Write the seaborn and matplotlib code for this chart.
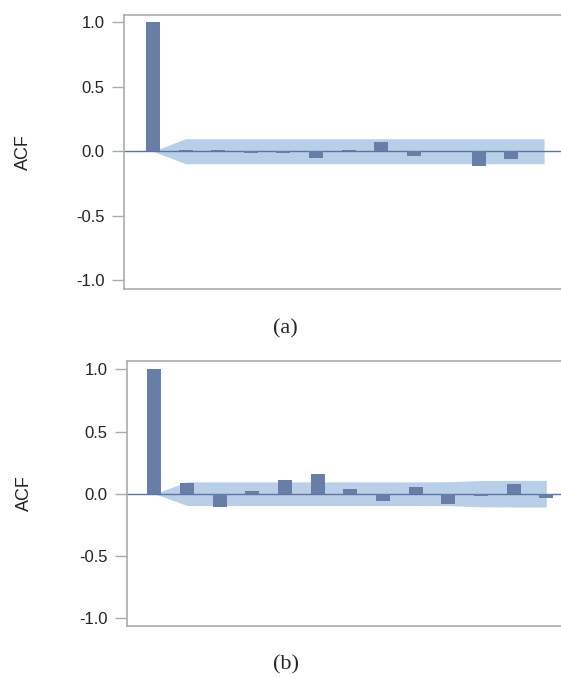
import numpy as np
import pandas as pd
import matplotlib
matplotlib.use("Agg")
import matplotlib.pyplot as plt
import seaborn as sns

# ---- data ----
lags = list(range(13))
acf_a = [1.0, 0.006, 0.008, -0.012, -0.01, -0.05, 0.008, 0.072, -0.036, 0.0, -0.116, -0.062, 0.005]
acf_b = [1.0, 0.085, -0.107, 0.024, 0.11, 0.155, 0.037, -0.062, 0.05, -0.083, -0.015, 0.075, -0.032]
conf_a = [0.0, 0.097, 0.097, 0.097, 0.097, 0.097, 0.097, 0.097, 0.097, 0.097, 0.097, 0.097, 0.097]
conf_b = [0.0, 0.095, 0.095, 0.095, 0.095, 0.095, 0.095, 0.095, 0.095, 0.096, 0.106, 0.107, 0.107]
yticks = [-1.0, -0.5, 0.0, 0.5, 1.0]
captions = ["(a)", "(b)"]

sns.set_style("white")
plt.rcParams['font.family'] = ['Liberation Sans', 'DejaVu Sans']

BAR = "#677FA6"
BAND = "#B9CFE8"
SPINE = "#A8ACB0"
ZERO = "#5B74A0"

fig = plt.figure(figsize=(5.61, 6.77), dpi=100)
axes_pos = [
    [124 / 561, 1 - 289 / 677, 1 - 124 / 561, (289 - 15) / 677],
    [127 / 561, 1 - 626 / 677, 1 - 127 / 561, (626 - 361) / 677],
]
ylims = [(-1.07, 1.058), (-1.064, 1.067)]
xlims = [(-0.89, 12.52), (-0.84, 12.45)]
cap_y = [1 - 329 / 677, 1 - 665 / 677]
label_x = [(32 - 124) / 437, (33 - 127) / 434]

for i, (acf, conf) in enumerate([(acf_a, conf_a), (acf_b, conf_b)]):
    ax = fig.add_axes(axes_pos[i])
    df = pd.DataFrame({"lag": lags, "acf": acf})
    conf_arr = np.array(conf)
    ax.fill_between(lags, -conf_arr, conf_arr, color=BAND, lw=0, zorder=1)
    ax.axhline(0, color=ZERO, lw=1.0, zorder=2)
    sns.barplot(data=df, x="lag", y="acf", color=BAR, width=0.43, ax=ax,
                saturation=1, zorder=3, linewidth=0)
    ax.set_xlim(*xlims[i])
    ax.set_ylim(*ylims[i])
    ax.set_yticks(yticks)
    ax.set_yticklabels([f"{t:.1f}" for t in yticks], fontsize=12, color="#222222")
    ax.set_xticks([])
    ax.set_xlabel("")
    ax.set_ylabel("ACF", fontsize=13, color="#222222")
    ax.yaxis.set_label_coords(label_x[i], 0.5)
    ax.tick_params(axis="y", length=8.5, width=1, color=SPINE, pad=5.5, left=True)
    for s in ["left", "top", "bottom"]:
        ax.spines[s].set_color(SPINE)
        ax.spines[s].set_linewidth(1.2)
    ax.spines["right"].set_visible(False)
    fig.text(285.5 / 561, cap_y[i], captions[i], ha="center", va="center",
             fontsize=16, family=["Liberation Serif", "DejaVu Serif"])

fig.savefig("out.png", dpi=100)
